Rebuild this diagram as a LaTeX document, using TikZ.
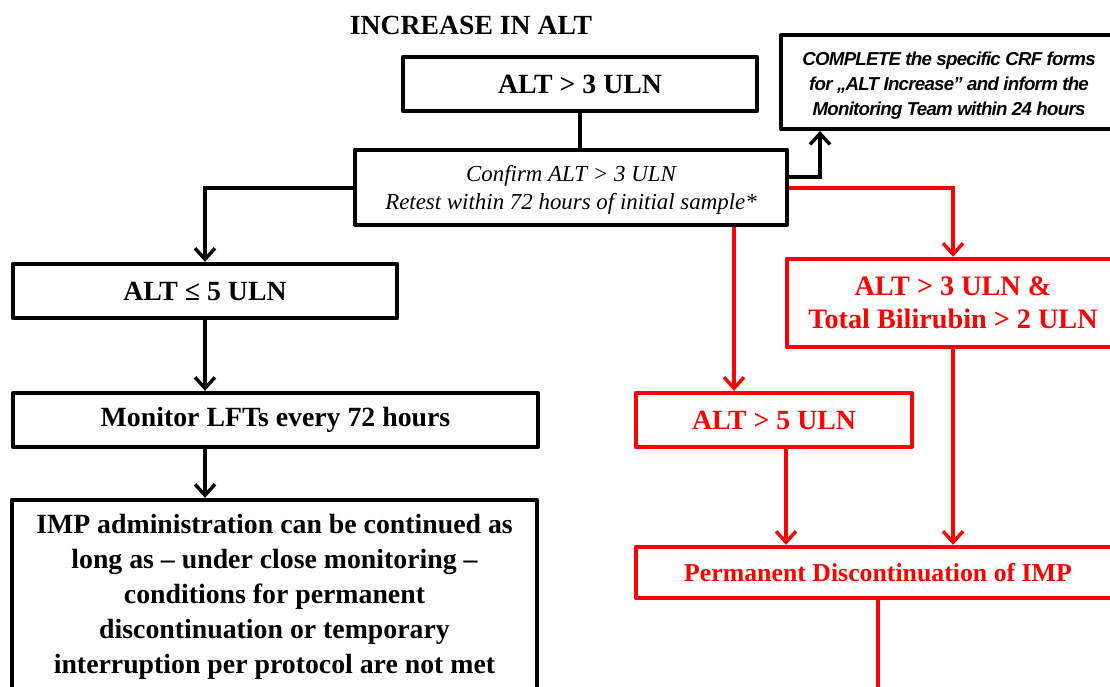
\documentclass[tikz,border=0pt]{standalone}
\usepackage{fontspec}
\setmainfont{Liberation Serif}
\newfontfamily\notefont[LetterSpace=-4]{Liberation Sans}
\usetikzlibrary{arrows.meta}
\definecolor{alarm}{RGB}{255,0,0}
\begin{document}
\begin{tikzpicture}[x=1pt,y=-1pt,
  box/.style={draw=black, line width=4.4pt, line join=round, rectangle, inner sep=0pt,
    align=center, font=\bfseries\fontsize{27.8}{35}\selectfont},
  redbox/.style={box, draw=alarm, text=alarm},
  label/.style={inner sep=0pt, align=center},
  link/.style={draw=black, line width=3.4pt,
    -{Straight Barb[length=11pt,width=20pt]}},
  plainlink/.style={draw=black, line width=3.4pt},
  redlink/.style={link, draw=alarm},
  redplain/.style={plainlink, draw=alarm}]
\useasboundingbox (0,0) rectangle (1110,686);
\clip (0,0) rectangle (1110,686);

% title
\node[font=\bfseries\fontsize{27.7}{30}\selectfont] (title) at (471,25) {INCREASE IN ALT};

% black branch
\node[box, minimum width=354pt, minimum height=54pt] (alt3) at (580,84) {ALT > 3 ULN};
\node[box, line width=4pt, minimum width=432pt, minimum height=75pt] (confirm) at (571,187) {};
\node[label, font=\itshape\fontsize{22.9}{28}\selectfont] (confirmtext) at (571,190)
  {Confirm ALT > 3 ULN\\Retest within 72 hours of initial sample*};
\node[box, line width=4pt, minimum width=336pt, minimum height=94pt] (complete) at (949,82) {};
\node[label, font=\notefont\bfseries\itshape\fontsize{18.7}{25}\selectfont] (completetext) at (949,85.5)
  {COMPLETE the specific CRF forms\\for „ALT Increase” and inform the\\Monitoring Team within 24 hours};
\node[box, minimum width=384pt, minimum height=54pt] (alt5le) at (205,291) {ALT ≤ 5 ULN};
\node[box, minimum width=525pt, minimum height=54pt] (monitor) at (275.5,420) {Monitor LFTs every 72 hours};
\node[box, minimum width=525pt, minimum height=194pt] (imp) at (274.5,597)
  {IMP administration can be continued as\\long as – under close monitoring –\\conditions for permanent\\discontinuation or temporary\\interruption per protocol are not met};

% red branch
\node[redbox, minimum width=332pt, minimum height=88pt, font=\bfseries\fontsize{28.2}{33}\selectfont] (bili) at (953,303)
  {ALT > 3 ULN \&\\Total Bilirubin > 2 ULN};
\node[redbox, minimum width=276pt, minimum height=54pt] (alt5gt) at (774,420) {ALT > 5 ULN};
\node[redbox, minimum width=484pt, minimum height=51pt, font=\bfseries\fontsize{25.8}{26}\selectfont] (perm) at (878,572.5)
  {Permanent Discontinuation of IMP};

% bend points and line ends
\coordinate (bendL) at (205,188);
\coordinate (bendR) at (820,177);
\coordinate (bendB) at (953,188);
\coordinate (colA) at (734,0);
\coordinate (colB) at (786,0);
\coordinate (tail) at (878,700);

% connectors
\draw[plainlink] (alt3.south) -- (alt3.south |- confirm.north);
\draw[link] (confirm.west |- bendL) -- (bendL) -- (alt5le.north);
\draw[link] (confirm.east |- bendR) -- (bendR) -- (complete.south -| bendR);
\draw[link] (alt5le.south) -- (alt5le.south |- monitor.north);
\draw[link] (monitor.south -| bendL) -- (imp.north -| bendL);

\draw[redlink] (confirm.east |- bendB) -- (bendB) -- (bili.north);
\draw[redlink] (confirm.south -| colA) -- (alt5gt.north -| colA);
\draw[redlink] (alt5gt.south -| colB) -- (perm.north -| colB);
\draw[redlink] (bili.south) -- (perm.north -| bili.south);
\draw[redplain] (perm.south) -- (tail);
\end{tikzpicture}
\end{document}
